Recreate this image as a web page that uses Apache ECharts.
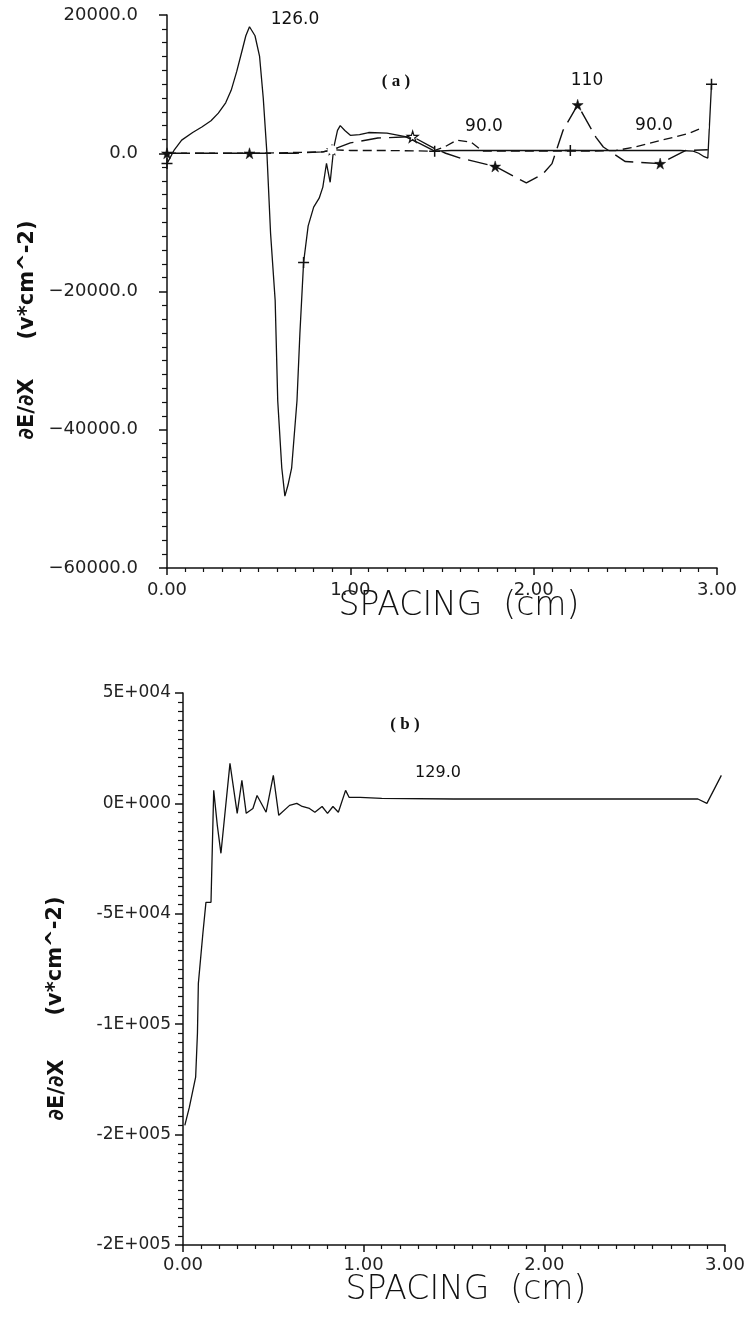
<!DOCTYPE html>
<html>
<head>
<meta charset="utf-8">
<script src="https://cdn.jsdelivr.net/npm/echarts@6/dist/echarts.min.js"></script>
<style>
html,body{margin:0;padding:0;background:#fff;}
#chart{width:748px;height:1317px;}
</style>
</head>
<body>
<div id="chart"></div>
<script>
// ---------- DATA ----------
// Panel (a): curve labelled 126.0 (solid, "+" markers)
const xA = [0, 0.04, 0.08, 0.14, 0.19, 0.24, 0.28, 0.32, 0.35, 0.38, 0.41, 0.43, 0.45, 0.48, 0.505, 0.525, 0.545, 0.565, 0.59, 0.604, 0.626, 0.643, 0.66, 0.68, 0.709, 0.725, 0.745, 0.77, 0.80, 0.83, 0.85, 0.87, 0.89, 0.91, 0.93, 0.945, 0.97, 1.0, 1.05, 1.1, 1.2, 1.3, 1.38, 1.46, 1.55, 1.8, 2.0, 2.2, 2.4, 2.6, 2.8, 2.87, 2.9, 2.93, 2.95, 2.97];
const yA = [-1500, 500, 1900, 3000, 3800, 4700, 5800, 7300, 9100, 11800, 14900, 17000, 18300, 17000, 14000, 8000, 0, -11600, -21300, -35800, -45500, -49600, -48000, -45500, -35800, -26000, -15800, -10500, -7800, -6500, -4900, -1450, -4200, 900, 3300, 4000, 3300, 2600, 2700, 3000, 2900, 2400, 1400, 300, 400, 400, 400, 400, 400, 400, 400, 300, 0, -500, -700, 10000];
const markA = [0, 26, 43, 47, 55];

// Panel (a): curve labelled 110 (long dash, star markers)
const xB = [0, 0.2, 0.45, 0.7, 0.85, 0.9, 1.0, 1.15, 1.34, 1.45, 1.52, 1.6, 1.79, 1.96, 2.05, 2.1, 2.16, 2.24, 2.34, 2.38, 2.5, 2.69, 2.83, 2.95];
const yB = [0, 0, 0, 0, 200, 500, 1500, 2200, 2400, 800, 0, -700, -1900, -4300, -3000, -1500, 3300, 7000, 2300, 900, -1200, -1500, 400, 500];
const markB = [0, 2, 5, 12, 17, 21];
const markBOpen = [8];

// Panel (a): curve labelled 90.0 (short dash, circle markers)
const xC = [0, 0.5, 0.85, 0.9, 1.0, 1.2, 1.45, 1.52, 1.58, 1.66, 1.72, 2.0, 2.3, 2.45, 2.55, 2.7, 2.85, 2.93];
const yC = [0, 0, 200, 500, 400, 400, 300, 1000, 1900, 1600, 300, 300, 300, 400, 900, 1900, 2900, 3800];
const markC = [3, 17];

// Panel (b): curve labelled 129.0 (solid)
const xD = [0.01, 0.035, 0.07, 0.08, 0.085, 0.11, 0.127, 0.155, 0.17, 0.19, 0.21, 0.26, 0.30, 0.326, 0.35, 0.387, 0.41, 0.46, 0.50, 0.53, 0.59, 0.63, 0.66, 0.70, 0.73, 0.77, 0.80, 0.83, 0.86, 0.90, 0.92, 0.98, 1.1, 1.5, 2.0, 2.5, 2.85, 2.9, 2.98];
const yD = [-145800, -137700, -124000, -104000, -81500, -58900, -44800, -44800, 5900, -10000, -22600, 18100, -4500, 10400, -4500, -2300, 3600, -4000, 12700, -5400, -900, 0, -1400, -2300, -4000, -1400, -4500, -1400, -4000, 5900, 2700, 2700, 2300, 2000, 2000, 2000, 2000, 0, 12700];

// Tick labels
const xTickLabels = ['0.00', '1.00', '2.00', '3.00'];
const yTickLabelsA = ['−60000.0', '−40000.0', '−20000.0', '0.0', '20000.0'];
const yTickLabelsB = ['-2E+005', '-2E+005', '-1E+005', '-5E+004', '0E+000', '5E+004'];

// Texts
const curveLabels = ['126.0', '110', '90.0', '90.0', '129.0'];
const panelLabels = ['( a )', '( b )'];
const xName = 'SPACING  (cm)';
const yNameParts = ['∂E/∂X', '(v*cm^-2)'];

// ---------- CHART ----------
const PLUS = 'path://M5,0 L5,10 M0,5 L10,5';
const STAR = 'path://M50,0 L61,35 L98,35 L68,57 L79,91 L50,70 L21,91 L32,57 L2,35 L39,35 Z';
const INK = '#111';
const FONT = '"DejaVu Sans", sans-serif';

function build(xs, ys, marks, symbol, size, extraOpen) {
  return xs.map((x, i) => {
    const item = { value: [x, ys[i]] };
    if (marks && marks.indexOf(i) >= 0) {
      item.symbol = symbol; item.symbolSize = size;
    }
    if (extraOpen && extraOpen.indexOf(i) >= 0) {
      item.symbol = STAR; item.symbolSize = 11;
      item.itemStyle = { color: '#fff', borderColor: INK, borderWidth: 1.2 };
    }
    return item;
  });
}

function xAxisCfg(gi, margin) {
  return {
    type: 'value', gridIndex: gi, min: 0, max: 3, interval: 1,
    axisLine: { show: true, onZero: false, lineStyle: { color: INK, width: 1.5 } },
    axisTick: { show: true, length: 7, lineStyle: { color: INK, width: 1.5 } },
    minorTick: { show: true, splitNumber: 10, length: 4, lineStyle: { color: INK, width: 1.2 } },
    splitLine: { show: false },
    axisLabel: { formatter: (v) => xTickLabels[Math.round(v)], fontSize: 18, color: '#222', fontFamily: FONT, margin: margin }
  };
}

function txt(x, y, text, font, rot) {
  const el = { type: 'text', x: x, y: y, style: { text: text, font: font, fill: '#111', align: 'center', verticalAlign: 'middle' } };
  if (rot) el.rotation = rot;
  return el;
}

const chart = echarts.init(document.getElementById('chart'), null, { renderer: 'canvas' });
chart.setOption({
  animation: false,
  backgroundColor: '#fff',
  grid: [
    { left: 167, top: 15, width: 550, height: 553 },
    { left: 183, top: 693, width: 543, height: 552 }
  ],
  xAxis: [xAxisCfg(0, 13), xAxisCfg(1, 11)],
  yAxis: [
    {
      type: 'value', gridIndex: 0, min: -60000, max: 20000, interval: 20000,
      axisLine: { show: true, onZero: false, lineStyle: { color: INK, width: 1.5 } },
      axisTick: { show: true, length: 8, lineStyle: { color: INK, width: 1.5 } },
      minorTick: { show: true, splitNumber: 10, length: 5, lineStyle: { color: INK, width: 1.2 } },
      splitLine: { show: false },
      axisLabel: { formatter: (v) => yTickLabelsA[Math.round((v + 60000) / 20000)], fontSize: 18, color: '#222', fontFamily: FONT, margin: 29 }
    },
    {
      type: 'value', gridIndex: 1, min: -200000, max: 50000, interval: 50000,
      axisLine: { show: true, onZero: false, lineStyle: { color: INK, width: 1.5 } },
      axisTick: { show: true, length: 8, lineStyle: { color: INK, width: 1.5 } },
      minorTick: { show: true, splitNumber: 12, length: 5, lineStyle: { color: INK, width: 1.2 } },
      splitLine: { show: false },
      axisLabel: { formatter: (v) => yTickLabelsB[Math.round((v + 200000) / 50000)], fontSize: 17, color: '#222', fontFamily: FONT, margin: 12 }
    }
  ],
  series: [
    {
      type: 'line', xAxisIndex: 0, yAxisIndex: 0, data: build(xA, yA, markA, PLUS, 11),
      showSymbol: true, showAllSymbol: true, symbolSize: 0, symbol: 'none',
      lineStyle: { color: INK, width: 1.3 },
      itemStyle: { color: 'none', borderColor: INK, borderWidth: 1.5 }, z: 3
    },
    {
      type: 'line', xAxisIndex: 0, yAxisIndex: 0, data: build(xB, yB, markB, STAR, 11, markBOpen),
      showSymbol: true, showAllSymbol: true, symbolSize: 0, symbol: 'none',
      lineStyle: { color: INK, width: 1.4, type: [20, 8] },
      itemStyle: { color: INK, borderColor: INK, borderWidth: 0.5 }, z: 3
    },
    {
      type: 'line', xAxisIndex: 0, yAxisIndex: 0, data: build(xC, yC, markC, 'emptyCircle', 7),
      showSymbol: true, showAllSymbol: true, symbolSize: 0, symbol: 'none',
      lineStyle: { color: INK, width: 1.3, type: [9, 5] },
      itemStyle: { color: '#fff', borderColor: INK, borderWidth: 1.2 }, z: 3
    },
    {
      type: 'line', xAxisIndex: 1, yAxisIndex: 1, data: build(xD, yD, null),
      showSymbol: false, symbol: 'none',
      lineStyle: { color: INK, width: 1.3 }, z: 3
    }
  ],
  graphic: [
    txt(295, 20, curveLabels[0], '17px ' + FONT),
    txt(587, 81, curveLabels[1], '17px ' + FONT),
    txt(484, 127, curveLabels[2], '17px ' + FONT),
    txt(654, 126, curveLabels[3], '17px ' + FONT),
    txt(438, 773, curveLabels[4], '16px ' + FONT),
    txt(396, 82, panelLabels[0], 'bold 17px "Liberation Serif", serif'),
    txt(405, 725, panelLabels[1], 'bold 17px "Liberation Serif", serif'),
    txt(459, 606, xName, '300 33px ' + FONT),
    txt(466, 1290, xName, '300 33px ' + FONT),
    txt(28, 409, yNameParts[0], 'bold 21px ' + FONT, Math.PI / 2),
    txt(28, 280, yNameParts[1], 'bold 21px ' + FONT, Math.PI / 2),
    txt(58, 1090, yNameParts[0], 'bold 21px ' + FONT, Math.PI / 2),
    txt(56, 956, yNameParts[1], 'bold 21px ' + FONT, Math.PI / 2)
  ]
});
</script>
</body>
</html>
